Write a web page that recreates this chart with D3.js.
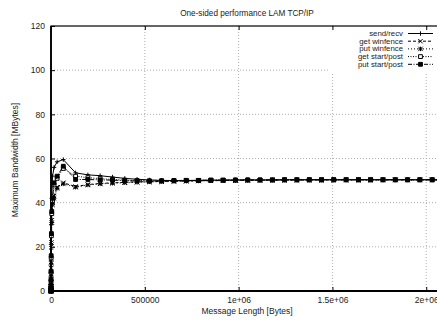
<!DOCTYPE html>
<html>
<head>
<meta charset="utf-8">
<script src="https://cdn.jsdelivr.net/npm/d3@7"></script>
<style>
  body { margin: 0; background: #fff; }
  svg { display: block; font-family: 'Liberation Sans', Arial, sans-serif; }
</style>
</head>
<body>
<div id="chart"></div>
<script>
// message sizes: powers of two up to 32768, then steps of 65536
let smallSizes = [1, 2, 4, 8, 16, 32, 64, 128, 256, 512, 1024, 2048, 4096, 8192, 16384, 32768]
let bigSizes = [65536, 131072, 196608, 262144, 327680, 393216, 458752, 524288,
  589824, 655360, 720896, 786432, 851968, 917504, 983040, 1048576,
  1114112, 1179648, 1245184, 1310720, 1376256, 1441792, 1507328, 1572864,
  1638400, 1703936, 1769472, 1835008, 1900544, 1966080, 2031616, 2097152]
let sizes = smallSizes.concat(bigSizes)

let sendRecv = [0.02, 0.05, 0.1, 0.2, 0.4, 0.8, 1.6, 3.1, 6, 11, 19, 30, 42, 52, 56, 58.5,
  59.5, 53.5, 52.6, 52.2, 51.6, 51, 50.6, 50.3, 50.1, 50, 50, 50.1, 50.2, 50.2, 50.3, 50.3,
  50.3, 50.3, 50.4, 50.4, 50.4, 50.4, 50.4, 50.4, 50.4, 50.4, 50.4, 50.4, 50.4, 50.4, 50.4, 50.4]
let getWinfence = [0.01, 0.03, 0.06, 0.12, 0.25, 0.5, 1, 2, 4, 7.5, 13, 22, 32, 40, 43, 47,
  49, 47.3, 48.2, 48.7, 49, 49.2, 49.4, 49.5, 49.6, 49.7, 49.8, 49.9, 50, 50, 50.1, 50.1,
  50.2, 50.2, 50.2, 50.2, 50.3, 50.3, 50.3, 50.3, 50.3, 50.3, 50.3, 50.3, 50.3, 50.3, 50.3, 50.3]
let putWinfence = [0.01, 0.03, 0.06, 0.12, 0.24, 0.5, 1, 1.9, 3.8, 7, 12.5, 21, 31, 39, 42, 46.5,
  48.5, 47, 48, 48.5, 48.8, 49, 49.2, 49.4, 49.5, 49.6, 49.7, 49.8, 49.9, 50, 50, 50.1,
  50.1, 50.2, 50.2, 50.2, 50.2, 50.2, 50.3, 50.3, 50.3, 50.3, 50.3, 50.3, 50.3, 50.3, 50.3, 50.3]
let getStartPost = [0.01, 0.03, 0.07, 0.14, 0.28, 0.6, 1.2, 2.4, 4.6, 8.5, 15, 25, 35, 41, 48, 51,
  55.5, 52, 51.3, 50.9, 50.5, 50.2, 50, 49.9, 49.9, 50, 50.1, 50.1, 50.2, 50.2, 50.2, 50.3,
  50.3, 50.3, 50.3, 50.3, 50.3, 50.3, 50.3, 50.3, 50.3, 50.3, 50.3, 50.3, 50.3, 50.3, 50.3, 50.3]
let putStartPost = [0.01, 0.03, 0.07, 0.15, 0.3, 0.6, 1.3, 2.6, 5, 9, 16, 26, 36, 42, 49, 52,
  56.5, 50.5, 50.5, 50.3, 50.2, 50, 49.8, 49.8, 49.9, 50, 50.1, 50.1, 50.2, 50.2, 50.3, 50.3,
  50.3, 50.3, 50.4, 50.4, 50.4, 50.4, 50.4, 50.4, 50.4, 50.4, 50.4, 50.4, 50.4, 50.4, 50.4, 50.4]

let seriesNames = ['send/recv', 'get winfence', 'put winfence', 'get start/post', 'put start/post']
let xTicks = [0, 500000, 1000000, 1500000, 2000000]
let xTickLabels = ['0', '500000', '1e+06', '1.5e+06', '2e+06']
let yTicks = [0, 20, 40, 60, 80, 100, 120]

let styles = [
  { dash: null, marker: 'plus' },
  { dash: '3,2', marker: 'cross' },
  { dash: '1,2', marker: 'star' },
  { dash: '1,1.5', marker: 'square' },
  { dash: '4,1.5,1,1.5', marker: 'filled' }
]

let series = [sendRecv, getWinfence, putWinfence, getStartPost, putStartPost].map((vals, i) => ({
  name: seriesNames[i],
  style: styles[i],
  values: sizes.map((s, j) => ({ size: s, bw: vals[j] }))
}))

let width = 437
let height = 322
let margin = { top: 26, left: 51, bottom: 31 }
let plotRight = 445

let svg = d3.select('#chart').append('svg').attr('width', width).attr('height', height)

let xPositionScale = d3.scaleLinear().domain([0, 2100000]).range([margin.left, plotRight])
let yPositionScale = d3.scaleLinear().domain([0, 120]).range([height - margin.bottom, margin.top])

let plotBottom = height - margin.bottom

// grid
let grid = svg.append('g').attr('stroke', '#9a9a9a').attr('stroke-width', 0.8).attr('stroke-dasharray', '1,2')
grid.selectAll('.hgrid')
  .data(yTicks.filter(d => d > 0 && d < 120))
  .enter().append('line')
  .attr('x1', margin.left).attr('x2', plotRight)
  .attr('y1', d => yPositionScale(d)).attr('y2', d => yPositionScale(d))
grid.selectAll('.vgrid')
  .data(xTicks.filter(d => d > 0))
  .enter().append('line')
  .attr('x1', d => xPositionScale(d)).attr('x2', d => xPositionScale(d))
  .attr('y1', plotBottom).attr('y2', margin.top)

// key area is cleared
svg.append('rect')
  .attr('x', 330).attr('y', margin.top + 1)
  .attr('width', plotRight - 330).attr('height', 47)
  .attr('fill', '#fff')

// axes (ticks pointing inward)
let yAxis = d3.axisLeft(yPositionScale).tickValues(yTicks).tickSizeInner(-4).tickSizeOuter(0).tickPadding(6)
svg.append('g')
  .attr('class', 'axis y-axis')
  .attr('transform', `translate(${margin.left},0)`)
  .call(yAxis)

let xAxis = d3.axisBottom(xPositionScale)
  .tickValues(xTicks)
  .tickFormat((d, i) => xTickLabels[i])
  .tickSizeInner(-4).tickSizeOuter(0).tickPadding(6)
svg.append('g')
  .attr('class', 'axis x-axis')
  .attr('transform', `translate(0,${plotBottom})`)
  .call(xAxis)

// mirror ticks on top
let xAxisTop = d3.axisTop(xPositionScale).tickValues(xTicks).tickSizeInner(-4).tickSizeOuter(0).tickFormat('')
svg.append('g')
  .attr('class', 'axis x-top')
  .attr('transform', `translate(0,${margin.top})`)
  .call(xAxisTop)

svg.selectAll('.domain').remove()
svg.selectAll('.axis text').attr('font-size', 8.5).attr('fill', '#222')
svg.selectAll('.axis line').attr('stroke', '#000')

// frame
svg.append('rect')
  .attr('x', margin.left).attr('y', margin.top)
  .attr('width', plotRight - margin.left).attr('height', plotBottom - margin.top)
  .attr('fill', 'none').attr('stroke', '#000').attr('stroke-width', 1.2)
svg.append('line')
  .attr('x1', margin.left).attr('x2', margin.left).attr('y1', margin.top).attr('y2', plotBottom + 1)
  .attr('stroke', '#000').attr('stroke-width', 1.8)
svg.append('line')
  .attr('x1', margin.left).attr('x2', plotRight).attr('y1', plotBottom).attr('y2', plotBottom)
  .attr('stroke', '#000').attr('stroke-width', 1.8)

function markerPath(type, r) {
  if (type === 'plus') return `M${-r},0H${r}M0,${-r}V${r}`
  if (type === 'cross') return `M${-r},${-r}L${r},${r}M${-r},${r}L${r},${-r}`
  if (type === 'star') return `M${-r},0H${r}M0,${-r}V${r}M${-r},${-r}L${r},${r}M${-r},${r}L${r},${-r}`
  return `M${-r},${-r}H${r}V${r}H${-r}Z`
}

function drawMarker(g, type, x, y) {
  let p = g.append('path')
    .attr('transform', `translate(${x},${y})`)
    .attr('d', markerPath(type, type === 'filled' || type === 'square' ? 1.9 : 2.2))
    .attr('stroke', '#000')
    .attr('stroke-width', 1)
  if (type === 'filled') p.attr('fill', '#000')
  else p.attr('fill', type === 'square' ? '#fff' : 'none')
}

let line = d3.line()
  .x(d => xPositionScale(d.size))
  .y(d => yPositionScale(d.bw))

let plotArea = svg.append('g')
series.forEach(s => {
  let g = plotArea.append('g')
  g.append('path')
    .datum(s.values)
    .attr('d', line)
    .attr('fill', 'none')
    .attr('stroke', '#000')
    .attr('stroke-width', 1)
    .attr('stroke-dasharray', s.style.dash)
  s.values.forEach(d => drawMarker(g, s.style.marker, xPositionScale(d.size), yPositionScale(d.bw)))
})

// key
let key = svg.append('g')
series.forEach((s, i) => {
  let ky = 33.5 + i * 7.7
  key.append('text')
    .attr('x', 403).attr('y', ky).attr('dy', '0.33em')
    .attr('text-anchor', 'end')
    .attr('font-size', 7.8).attr('fill', '#222')
    .text(s.name)
  key.append('line')
    .attr('x1', 408).attr('x2', 433).attr('y1', ky).attr('y2', ky)
    .attr('stroke', '#000').attr('stroke-width', 1)
    .attr('stroke-dasharray', s.style.dash)
  drawMarker(key, s.style.marker, 420.5, ky)
})

// titles
svg.append('text')
  .attr('x', 247).attr('y', 16)
  .attr('text-anchor', 'middle')
  .attr('font-size', 8.2).attr('fill', '#222')
  .text('One-sided performance LAM TCP/IP')

svg.append('text')
  .attr('x', 247).attr('y', 314)
  .attr('text-anchor', 'middle')
  .attr('font-size', 8.5).attr('fill', '#222')
  .text('Message Length [Bytes]')

svg.append('text')
  .attr('transform', `translate(18,160) rotate(-90)`)
  .attr('text-anchor', 'middle')
  .attr('font-size', 8.5).attr('fill', '#222')
  .text('Maximum Bandwidth [MBytes]')
</script>
</body>
</html>
